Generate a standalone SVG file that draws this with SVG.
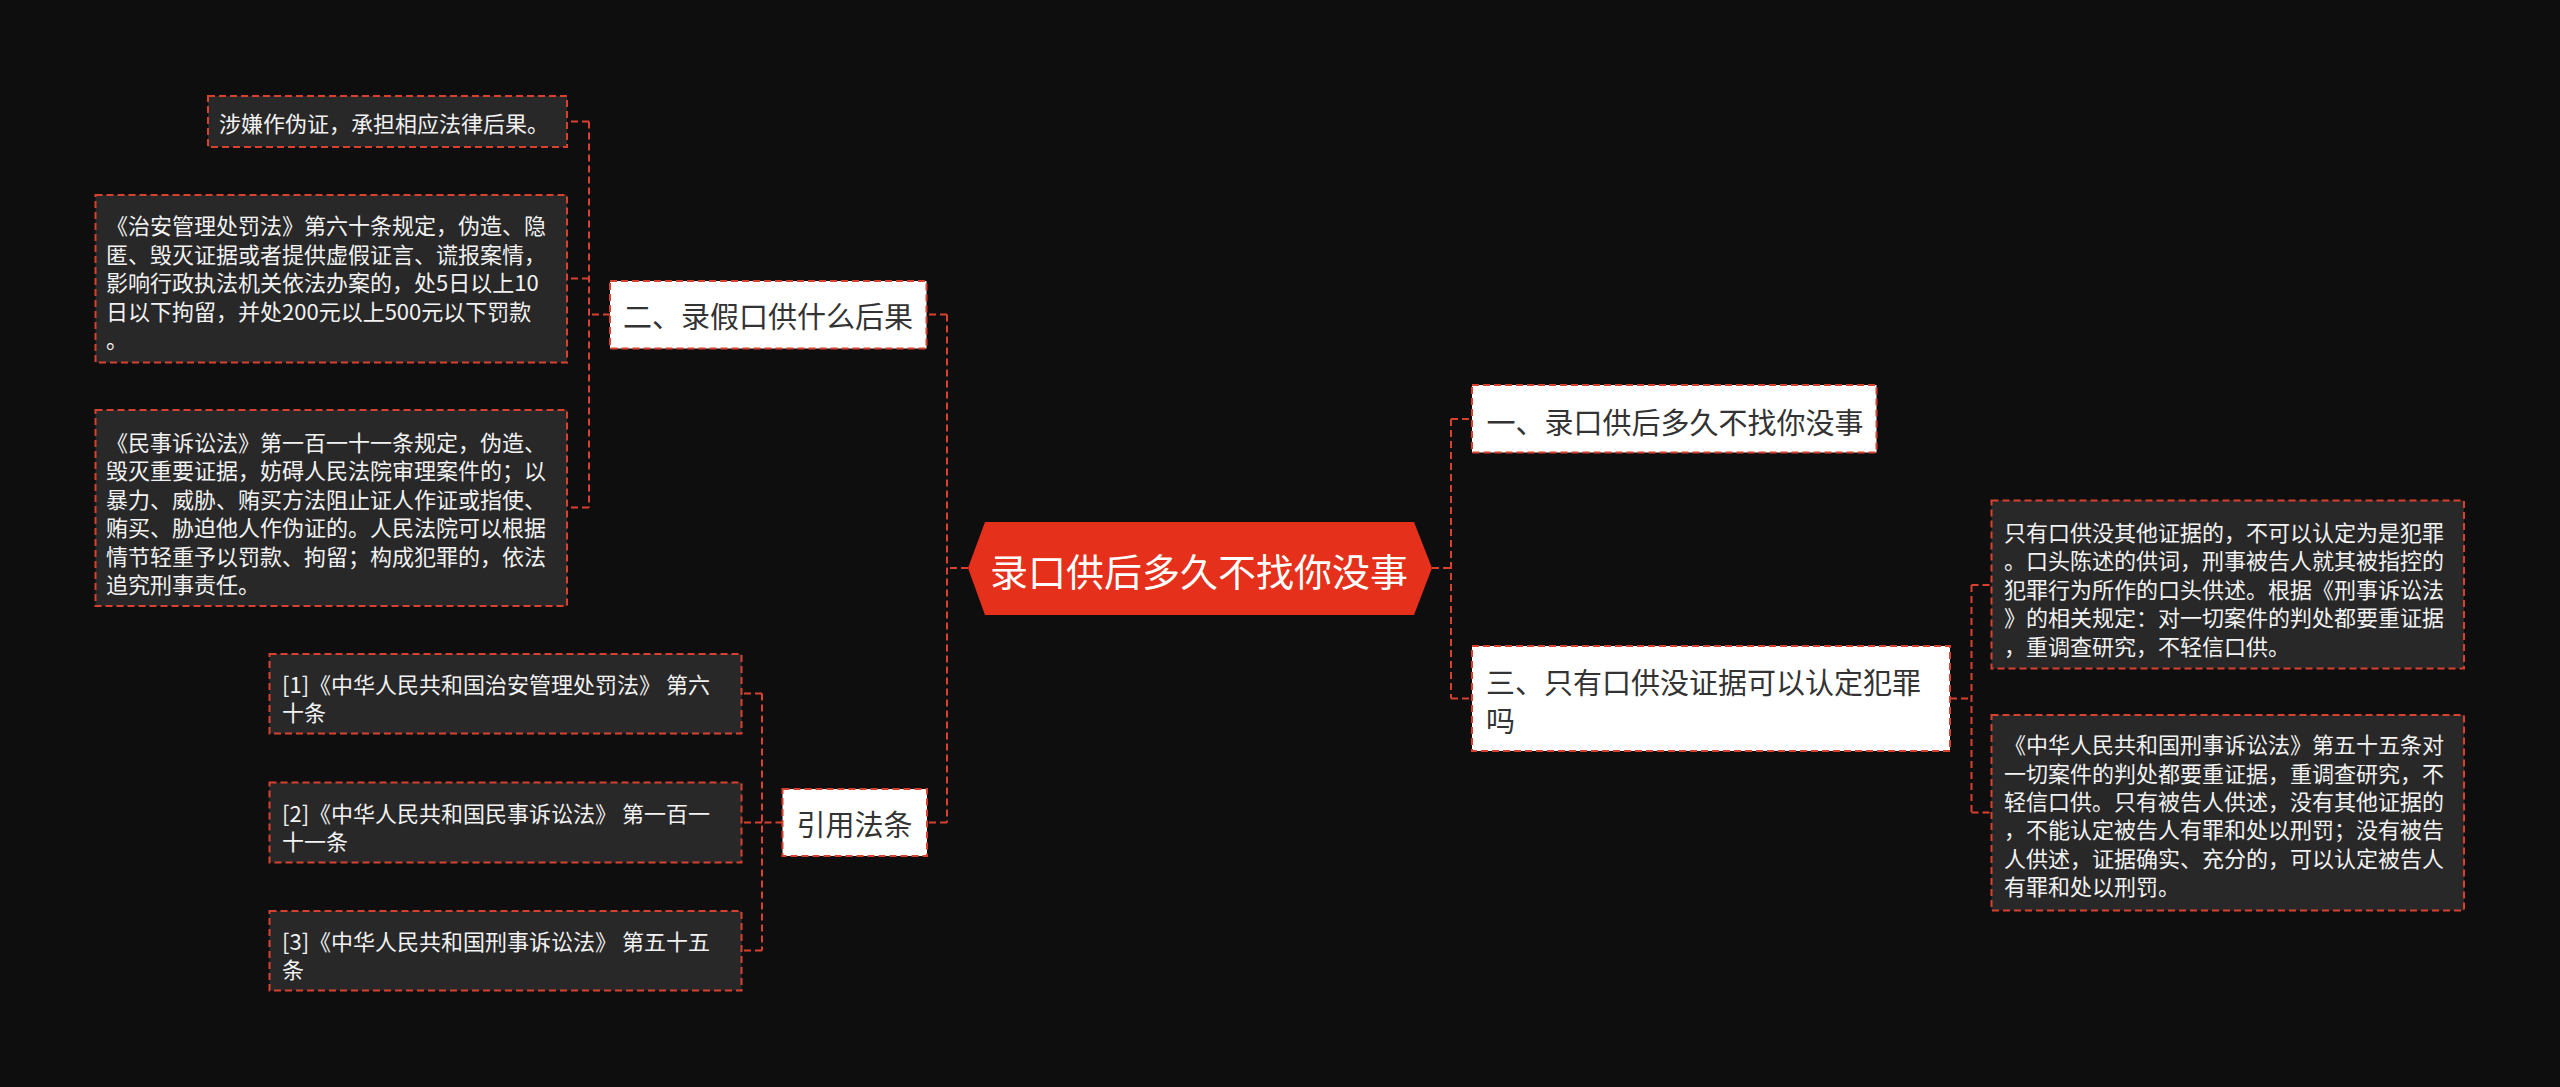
<svg xmlns="http://www.w3.org/2000/svg" width="2560" height="1087" viewBox="0 0 2560 1087">
<style>
.bg{fill:#0e0e0e}
.box{fill:#282828;stroke:#d9412f;stroke-width:2;stroke-dasharray:7 4}
.wbox{fill:#ffffff;stroke:#d9412f;stroke-width:2;stroke-dasharray:7 4}
.link{fill:none;stroke:#d9412f;stroke-width:2;stroke-dasharray:7 4}
.t{font-family:"Noto Sans CJK SC","Noto Sans",sans-serif;font-size:22px;fill:#f2f2f2;dominant-baseline:central}
.tw{font-family:"Noto Sans CJK SC","Noto Sans",sans-serif;font-size:29px;fill:#333333;dominant-baseline:central}
.tc{font-family:"Noto Sans CJK SC","Noto Sans",sans-serif;font-size:38px;fill:#ffffff;dominant-baseline:central;text-anchor:middle}
</style>
<rect class="bg" x="0" y="0" width="2560" height="1087"/>

<g id="connectors">
<path class="link" d="M968,568 H947 M947,314.5 V822.5 M947,314.5 H926.5 M947,822.5 H927"/>
<path class="link" d="M610,314.5 H589 M589,121.5 V507.5 M589,121.5 H567 M589,278.5 H567 M589,507.5 H567"/>
<path class="link" d="M782.5,822.5 H762 M762,693.5 V950.5 M762,693.5 H741.5 M762,822.5 H741.5 M762,950.5 H741.5"/>
<path class="link" d="M1432,568 H1451 M1451,419 V698.5 M1451,419 H1472 M1451,698.5 H1472"/>
<path class="link" d="M1950,698.5 H1971.5 M1971.5,585 V812.5 M1971.5,585 H1991.5 M1971.5,812.5 H1991.5"/>
</g>

<g id="center">
<polygon points="968,568 985,522 1414,522 1432,568 1414,615 985,615" fill="#e5301c"/>
<text class="tc" x="1199" y="569">录口供后多久不找你没事</text>
</g>

<g id="node-2">
<rect class="wbox" x="610" y="281" width="316.5" height="67.5"/>
<text class="tw" x="623" y="315">二、录假口供什么后果</text>
</g>

<g id="node-2a">
<rect class="box" x="208" y="96" width="359" height="51"/>
<text class="t" x="219" y="122">涉嫌作伪证，承担相应法律后果。</text>
</g>

<g id="node-2b">
<rect class="box" x="95.5" y="195" width="471.5" height="167.5"/>
<text class="t" x="106" y="224">《治安管理处罚法》第六十条规定，伪造、隐</text>
<text class="t" x="106" y="252.6">匿、毁灭证据或者提供虚假证言、谎报案情，</text>
<text class="t" x="106" y="281.2">影响行政执法机关依法办案的，处5日以上10</text>
<text class="t" x="106" y="309.8">日以下拘留，并处200元以上500元以下罚款</text>
<text class="t" x="106" y="338.4">。</text>
</g>

<g id="node-2c">
<rect class="box" x="95.5" y="410" width="471.5" height="196"/>
<text class="t" x="106" y="440.5">《民事诉讼法》第一百一十一条规定，伪造、</text>
<text class="t" x="106" y="469">毁灭重要证据，妨碍人民法院审理案件的；以</text>
<text class="t" x="106" y="497.6">暴力、威胁、贿买方法阻止证人作证或指使、</text>
<text class="t" x="106" y="526.2">贿买、胁迫他人作伪证的。人民法院可以根据</text>
<text class="t" x="106" y="554.8">情节轻重予以罚款、拘留；构成犯罪的，依法</text>
<text class="t" x="106" y="583.4">追究刑事责任。</text>
</g>

<g id="node-ref">
<rect class="wbox" x="782.5" y="789" width="144.5" height="67"/>
<text class="tw" x="796.5" y="823">引用法条</text>
</g>

<g id="node-ref1">
<rect class="box" x="269.5" y="654" width="472" height="79.5"/>
<text class="t" x="282" y="683">[1]《中华人民共和国治安管理处罚法》 第六</text>
<text class="t" x="282" y="711">十条</text>
</g>

<g id="node-ref2">
<rect class="box" x="269.5" y="782.5" width="472" height="80"/>
<text class="t" x="282" y="811.5">[2]《中华人民共和国民事诉讼法》 第一百一</text>
<text class="t" x="282" y="839.5">十一条</text>
</g>

<g id="node-ref3">
<rect class="box" x="269.5" y="911" width="472" height="79.5"/>
<text class="t" x="282" y="940">[3]《中华人民共和国刑事诉讼法》 第五十五</text>
<text class="t" x="282" y="968">条</text>
</g>

<g id="node-1">
<rect class="wbox" x="1472" y="385" width="404.5" height="67.5"/>
<text class="tw" x="1486.5" y="421">一、录口供后多久不找你没事</text>
</g>

<g id="node-3">
<rect class="wbox" x="1472" y="646" width="478" height="105"/>
<text class="tw" x="1486" y="681">三、只有口供没证据可以认定犯罪</text>
<text class="tw" x="1486" y="719">吗</text>
</g>

<g id="node-3a">
<rect class="box" x="1991.5" y="500.5" width="472.5" height="168"/>
<text class="t" x="2004" y="530.5">只有口供没其他证据的，不可以认定为是犯罪</text>
<text class="t" x="2004" y="559.1">。口头陈述的供词，刑事被告人就其被指控的</text>
<text class="t" x="2004" y="587.7">犯罪行为所作的口头供述。根据《刑事诉讼法</text>
<text class="t" x="2004" y="616.3">》的相关规定：对一切案件的判处都要重证据</text>
<text class="t" x="2004" y="644.9">，重调查研究，不轻信口供。</text>
</g>

<g id="node-3b">
<rect class="box" x="1991.5" y="715" width="472.5" height="195.5"/>
<text class="t" x="2004" y="743.3">《中华人民共和国刑事诉讼法》第五十五条对</text>
<text class="t" x="2004" y="771.7">一切案件的判处都要重证据，重调查研究，不</text>
<text class="t" x="2004" y="800">轻信口供。只有被告人供述，没有其他证据的</text>
<text class="t" x="2004" y="828.3">，不能认定被告人有罪和处以刑罚；没有被告</text>
<text class="t" x="2004" y="856.7">人供述，证据确实、充分的，可以认定被告人</text>
<text class="t" x="2004" y="885">有罪和处以刑罚。</text>
</g>
</svg>
